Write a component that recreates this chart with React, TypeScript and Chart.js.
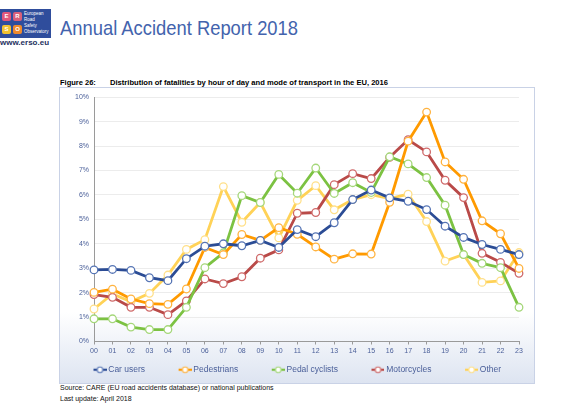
import { Chart, registerables } from 'chart.js';
import React, { useEffect, useRef } from 'react';

Chart.register(...registerables);

const hours = ['00', '01', '02', '03', '04', '05', '06', '07', '08', '09', '10', '11', '12', '13', '14', '15', '16', '17', '18', '19', '20', '21', '22', '23'];

const carUsers = [2.93, 2.95, 2.91, 2.61, 2.49, 3.39, 3.9, 4.0, 3.92, 4.14, 3.85, 4.58, 4.29, 4.86, 5.81, 6.2, 5.88, 5.74, 5.4, 4.72, 4.26, 3.97, 3.77, 3.56];
const pedestrians = [2.01, 2.14, 1.74, 1.55, 1.52, 2.15, 3.85, 3.56, 4.38, 4.14, 4.66, 4.39, 3.87, 3.37, 3.59, 3.58, 5.7, 8.2, 9.39, 7.35, 6.64, 4.94, 4.41, 2.99];
const pedalCyclists = [0.93, 0.93, 0.59, 0.49, 0.49, 1.4, 3.02, 3.63, 5.97, 5.69, 6.84, 6.07, 7.1, 6.06, 6.5, 6.1, 7.56, 7.27, 6.71, 5.58, 3.56, 3.2, 3.02, 1.4];
const motorcycles = [1.92, 1.81, 1.4, 1.4, 1.1, 1.66, 2.56, 2.37, 2.65, 3.41, 3.75, 5.25, 5.28, 6.42, 6.87, 6.67, 7.54, 8.26, 7.76, 6.6, 5.89, 3.61, 3.24, 2.79];
const other = [1.33, 1.95, 1.63, 1.97, 2.72, 3.77, 4.17, 6.34, 4.88, 5.69, 4.24, 5.78, 6.38, 5.39, 5.81, 6.01, 5.85, 6.03, 4.91, 3.29, 3.56, 2.42, 2.48, 3.64];

const seriesNames = ['Car users', 'Pedestrians', 'Pedal cyclists', 'Motorcycles', 'Other'];
const seriesValues = [carUsers, pedestrians, pedalCyclists, motorcycles, other];
const lineColors = ['#2b4c95', '#ff9a00', '#7cc242', '#b94a48', '#ffd257'];
const markerColors = ['#5675b5', '#ffb340', '#a5d77a', '#cf6a6a', '#ffe08a'];

const yTicks = [0, 1, 2, 3, 4, 5, 6, 7, 8, 9, 10];

const tickColor = '#4a5f99';
const sans = 'Liberation Sans, Arial, sans-serif';

// legend symbol: short line with a hollow circle, drawn at the right end of a wider canvas
function makeIcon(line: string, marker: string) {
  const c = document.createElement('canvas');
  c.width = 45;
  c.height = 10;
  const ctx = c.getContext('2d')!;
  ctx.strokeStyle = line;
  ctx.lineWidth = 2.2;
  ctx.beginPath();
  ctx.moveTo(32, 5);
  ctx.lineTo(45, 5);
  ctx.stroke();
  ctx.beginPath();
  ctx.arc(38.5, 5, 2.8, 0, Math.PI * 2);
  ctx.fillStyle = '#ffffff';
  ctx.fill();
  ctx.lineWidth = 1.1;
  ctx.strokeStyle = marker;
  ctx.stroke();
  return c;
}

const FatalitiesChart: React.FC = () => {
  const canvasRef = useRef<HTMLCanvasElement | null>(null);

  useEffect(() => {
    const canvas = canvasRef.current;
    if (!canvas) return;

    const icons = seriesNames.map((_, i) => makeIcon(lineColors[i], markerColors[i]));

    const chart = new Chart(canvas, {
      type: 'line',
      data: {
        labels: hours,
        datasets: seriesNames.map((name, i) => ({
          label: name,
          data: seriesValues[i],
          borderColor: lineColors[i],
          backgroundColor: lineColors[i],
          borderWidth: 2.8,
          pointRadius: 3.8,
          pointBorderWidth: 1.3,
          pointBackgroundColor: '#ffffff',
          pointBorderColor: markerColors[i],
          tension: 0,
        })),
      },
      options: {
        animation: false,
        responsive: false,
        maintainAspectRatio: false,
        layout: { padding: { left: 0, right: 13, top: 7, bottom: 0 } },
        plugins: {
          title: { display: false },
          tooltip: { enabled: false },
          legend: {
            position: 'bottom',
            align: 'start',
            labels: {
              usePointStyle: true,
              pointStyleWidth: 40,
              padding: 4,
              color: tickColor,
              font: { family: sans, size: 8.5 },
              generateLabels: (c: Chart) => {
                const items = Chart.defaults.plugins.legend.labels.generateLabels(c);
                return items.map((it: any) => ({ ...it, pointStyle: icons[it.datasetIndex] }));
              },
            },
          },
        },
        scales: {
          x: {
            offset: false,
            afterFit: (scale: any) => {
              scale.height = 20;
            },
            grid: {
              drawOnChartArea: false,
              drawTicks: true,
              tickLength: 3,
              color: '#9a9a9a',
            },
            border: { color: '#9a9a9a', width: 1 },
            ticks: {
              color: tickColor,
              padding: 2,
              maxRotation: 0,
              autoSkip: false,
              font: { family: sans, size: 7 },
            },
          },
          y: {
            min: yTicks[0],
            max: yTicks[yTicks.length - 1],
            afterFit: (scale: any) => {
              scale.width = 34;
            },
            afterBuildTicks: (scale: any) => {
              scale.ticks = yTicks.map((v) => ({ value: v }));
            },
            grid: {
              color: '#ececec',
              drawTicks: false,
            },
            border: { color: '#9a9a9a', width: 1 },
            ticks: {
              color: tickColor,
              padding: 5,
              font: { family: sans, size: 7 },
              callback: (v: any) => `${v}%`,
            },
          },
        },
      },
    });

    return () => {
      chart.destroy();
    };
  }, []);

  return (
    <canvas
      ref={canvasRef}
      width={472}
      height={296}
      style={{ position: 'absolute', left: 60, top: 88, width: 472, height: 296 }}
    />
  );
};

const Logo: React.FC = () => {
  const sq = (left: number, top: number, bg: string, letter: string) => (
    <div
      style={{
        position: 'absolute',
        left,
        top,
        width: 9,
        height: 9,
        background: bg,
        borderRadius: 2,
        color: '#fff',
        fontSize: 6,
        fontWeight: 'bold',
        lineHeight: '9px',
        textAlign: 'center',
      }}
    >
      {letter}
    </div>
  );
  return (
    <div style={{ position: 'absolute', left: 0, top: 9, width: 51, height: 29, background: '#2f4d9c' }}>
      {sq(2, 3, '#e0567a', 'E')}
      {sq(13, 3, '#d9607a', 'R')}
      {sq(2, 16, '#f2c230', 'S')}
      {sq(13, 16, '#f08a2c', 'O')}
      <div style={{ position: 'absolute', left: 24, top: 2, color: '#fff', fontSize: 4.5, lineHeight: '6px', fontFamily: sans }}>
        European
        <br />
        Road
        <br />
        Safety
        <br />
        Observatory
      </div>
    </div>
  );
};

const App: React.FC = () => {
  return (
    <div style={{ position: 'absolute', left: 0, top: 0, width: 579, height: 409, background: '#fff', fontFamily: sans }}>
      <Logo />
      <div style={{ position: 'absolute', left: 0, top: 38, width: 52, fontSize: 8, fontWeight: 'bold', color: '#1d2f5e', lineHeight: '9px' }}>
        www.erso.eu
      </div>
      <div
        style={{
          position: 'absolute',
          left: 60,
          top: 17,
          fontSize: 21,
          lineHeight: '21px',
          color: '#4363ad',
          whiteSpace: 'nowrap',
          transform: 'scaleX(0.875)',
          transformOrigin: 'left top',
        }}
      >
        Annual Accident Report 2018
      </div>
      <div style={{ position: 'absolute', left: 60, top: 79, fontSize: 7.5, lineHeight: '8px', fontWeight: 'bold', color: '#000', whiteSpace: 'nowrap' }}>
        Figure 26:
      </div>
      <div style={{ position: 'absolute', left: 110, top: 79, fontSize: 7.6, lineHeight: '8px', fontWeight: 'bold', color: '#000', whiteSpace: 'nowrap' }}>
        Distribution of fatalities by hour of day and mode of transport in the EU, 2016
      </div>
      <div
        style={{
          position: 'absolute',
          left: 59,
          top: 87,
          width: 474,
          height: 295,
          border: '1px solid #c9d2e6',
          background: 'linear-gradient(to bottom, #ffffff 0%, #ffffff 76%, #dde4f1 100%)',
        }}
      />
      <FatalitiesChart />
      <div style={{ position: 'absolute', left: 60, top: 384, fontSize: 7, lineHeight: '8px', color: '#111', whiteSpace: 'nowrap' }}>
        Source: CARE (EU road accidents database) or national publications
      </div>
      <div style={{ position: 'absolute', left: 60, top: 395, fontSize: 7, lineHeight: '8px', color: '#111', whiteSpace: 'nowrap' }}>
        Last update: April 2018
      </div>
    </div>
  );
};

export default App;
